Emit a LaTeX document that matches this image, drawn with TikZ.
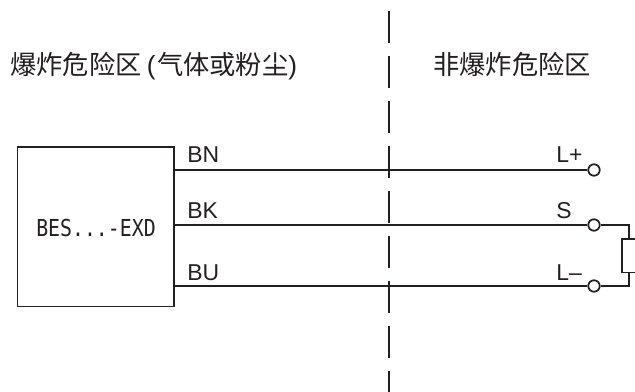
\documentclass[tikz,border=0pt]{standalone}
\usepackage{fontspec}
\setmainfont{Liberation Sans}
\newfontfamily\cjk{Noto Sans CJK SC}
\newfontfamily\condfont{DejaVu Sans Mono}
\definecolor{ink}{HTML}{231F20}
\tikzset{
 x=0.75pt,y=-0.75pt,
 wire/.style={draw=ink,line width=1.3pt},
 term/.style={circle,draw=ink,fill=white,line width=1.3pt,minimum size=8.6pt,inner sep=0pt},
 wlabel/.style={anchor=base west,text=ink,font=\fontsize{17.2pt}{20pt}\selectfont,inner sep=0pt},
 zone/.style={anchor=base west,text=ink,font=\cjk\fontsize{19.7pt}{22pt}\selectfont,inner sep=0pt},
}
\begin{document}
\begin{tikzpicture}
\useasboundingbox (0,0) rectangle (635,392);
\node[zone] (z1) at (10,74.5) {爆炸危险区\hspace{4pt}{\rmfamily\fontsize{19.7pt}{22pt}\selectfont(}\hspace{1pt}气体或粉尘{\rmfamily\fontsize{19.7pt}{22pt}\selectfont)}};
\node[zone] (z2) at (433,74.5) {非爆炸危险区};
\coordinate (dt) at (389,11);
\coordinate (db) at (389,392);
\draw[draw=ink,line width=1.2pt,dash pattern=on 24pt off 9.75pt] (dt) -- (db);
\node[draw=ink,line width=1.3pt,minimum width=117.5pt,minimum height=119.5pt,inner sep=0pt,anchor=north west] (box) at (16.5,146.4) {};
\node[text=ink,font=\condfont\fontsize{17.5pt}{20pt}\selectfont,xscale=.85,inner sep=0pt,anchor=base] (boxt) at (96,236.7) {BES...-EXD};
\node[term] (t1) at (594,170) {};
\node[term] (t2) at (594,225) {};
\node[term] (t3) at (594,286) {};
\coordinate (s1) at (box.east |- t1);
\coordinate (s2) at (box.east |- t2);
\coordinate (s3) at (box.east |- t3);
\draw[wire] (s1) -- (t1);
\draw[wire] (s2) -- (t2);
\draw[wire] (s3) -- (t3);
\node[wlabel] (bn) at (187,162.5) {BN};
\node[wlabel] (bk) at (187,219) {BK};
\node[wlabel] (bu) at (187,280) {BU};
\node[wlabel] (lp) at (556,162.5) {L+};
\node[wlabel] (sl) at (556,218.5) {S};
\node[wlabel] (lm) at (556,280) {L–};
\coordinate (ra) at (629,225);
\coordinate (rb) at (629,286);
\coordinate (rt) at (629,239);
\coordinate (rd) at (629,272.5);
\draw[wire] (t2) -- (ra) -- (rt);
\draw[wire] (t3) -- (rb) -- (rd);
\draw[wire] (636,239) -- (622,239) -- (622,272.5) -- (636,272.5);
\end{tikzpicture}
\end{document}
